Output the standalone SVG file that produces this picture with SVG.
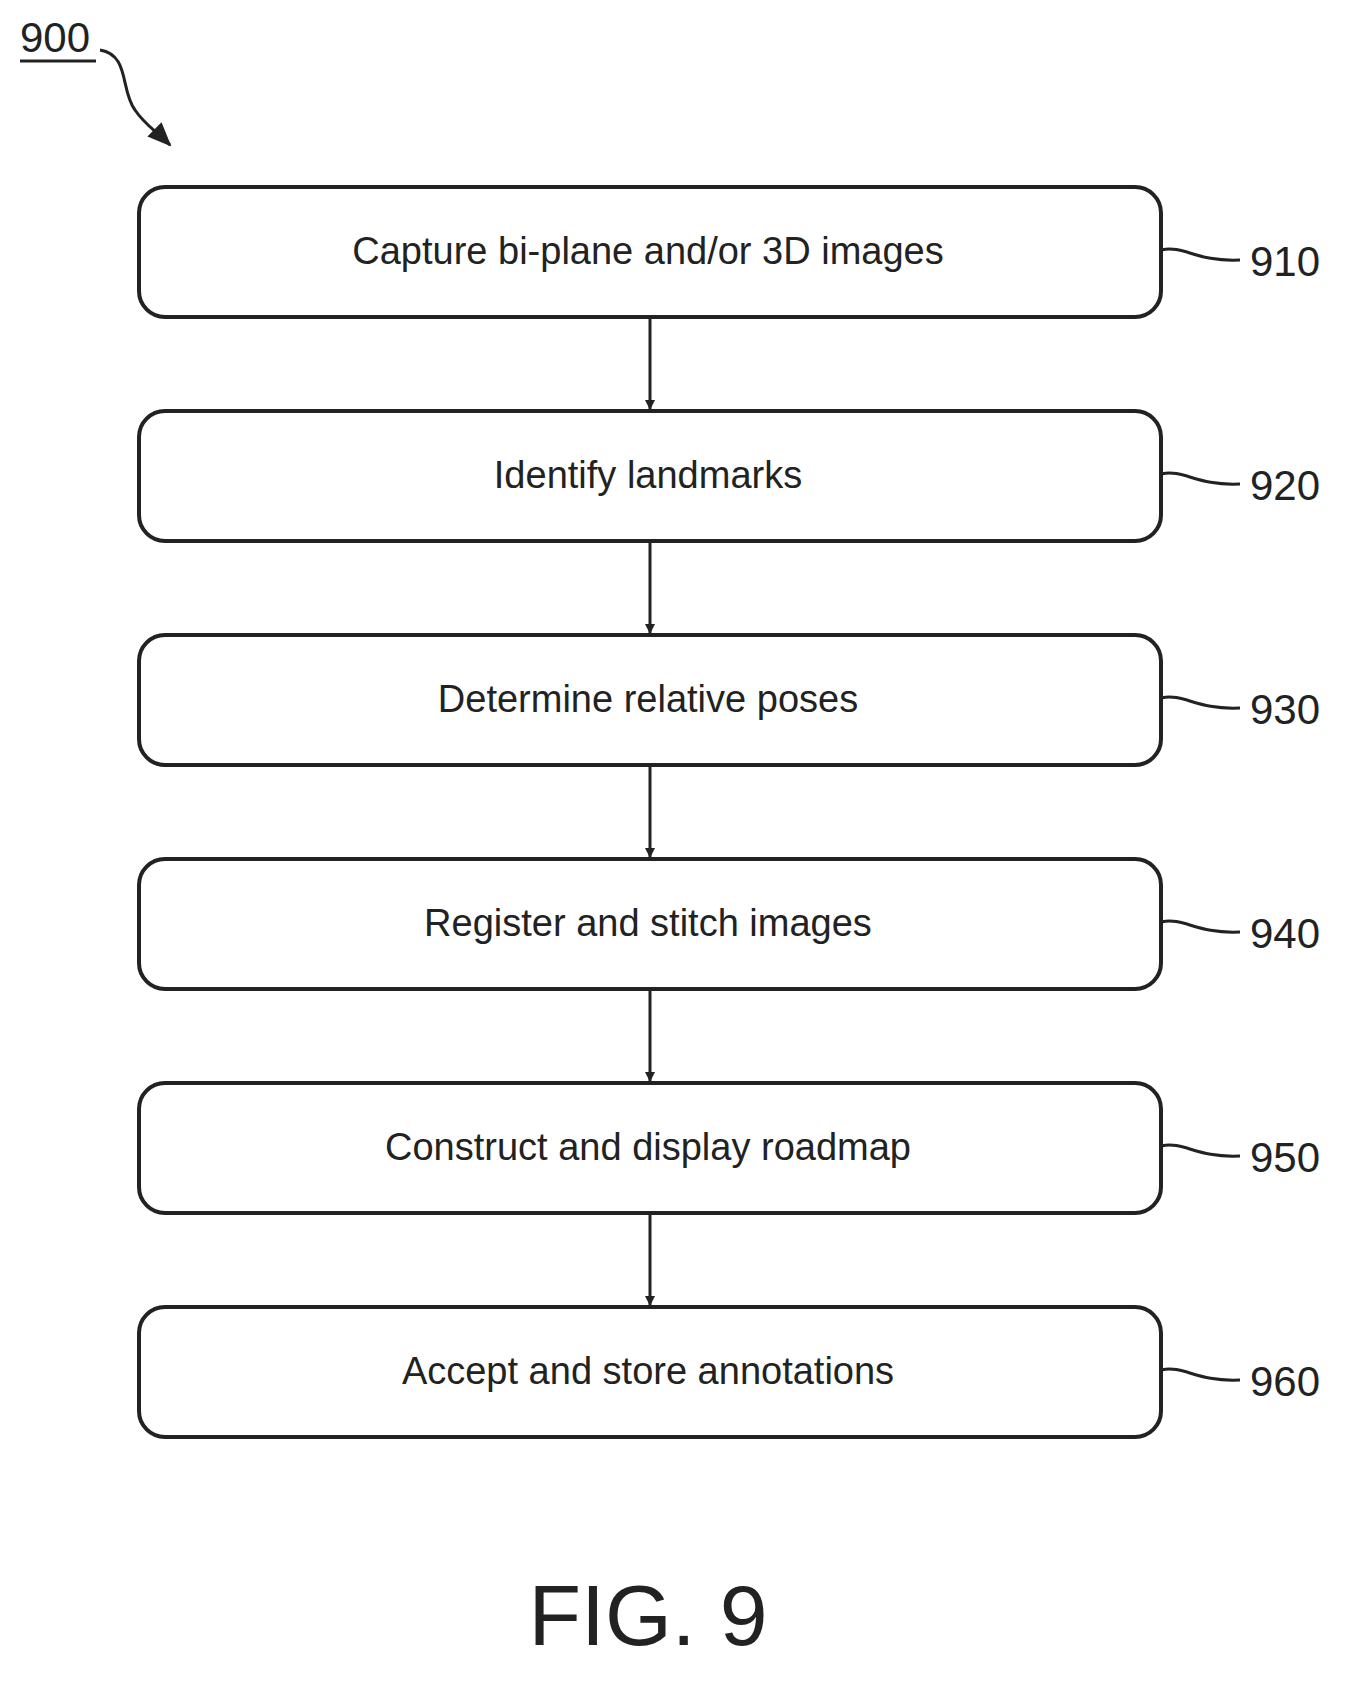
<svg xmlns="http://www.w3.org/2000/svg" width="1356" height="1683" viewBox="0 0 1356 1683">
<style>
.box{fill:#fff;stroke:#222;stroke-width:4}
.t{font-family:"Liberation Sans",Arial,sans-serif;font-size:38px;fill:#222;text-anchor:middle}
.n{font-family:"Liberation Sans",Arial,sans-serif;font-size:42px;fill:#222}
.c{stroke:#222;stroke-width:3;fill:none}
</style>
<defs><marker id="a" markerWidth="10" markerHeight="10" refX="9" refY="5" orient="auto" markerUnits="userSpaceOnUse" viewBox="0 0 10 10"><path d="M0,0 L10,5 L0,10 z" fill="#222"/></marker>
<marker id="b" markerWidth="24" markerHeight="20" refX="22" refY="10" orient="auto" markerUnits="userSpaceOnUse"><path d="M0,0 L24,10 L0,20 z" fill="#222"/></marker></defs>
<g id="label900"><text class="n" x="20" y="52">900</text><line x1="20" y1="61" x2="96" y2="61" class="c"/>
<path class="c" d="M100,50 C130,55 120,90 135,110 C145,125 155,130 170,145" marker-end="url(#b)"/></g>
<g id="n910"><rect class="box" x="139" y="187" width="1022" height="130" rx="26"/><text class="t" x="648" y="264">Capture bi-plane and/or 3D images</text><path class="c" d="M1161,250 C1185,245 1195,262 1240,260"/><text class="n" x="1250" y="276">910</text></g>
<g id="n920"><rect class="box" x="139" y="411" width="1022" height="130" rx="26"/><text class="t" x="648" y="488">Identify landmarks</text><path class="c" d="M1161,474 C1185,469 1195,486 1240,484"/><text class="n" x="1250" y="500">920</text></g>
<g id="n930"><rect class="box" x="139" y="635" width="1022" height="130" rx="26"/><text class="t" x="648" y="712">Determine relative poses</text><path class="c" d="M1161,698 C1185,693 1195,710 1240,708"/><text class="n" x="1250" y="724">930</text></g>
<g id="n940"><rect class="box" x="139" y="859" width="1022" height="130" rx="26"/><text class="t" x="648" y="936">Register and stitch images</text><path class="c" d="M1161,922 C1185,917 1195,934 1240,932"/><text class="n" x="1250" y="948">940</text></g>
<g id="n950"><rect class="box" x="139" y="1083" width="1022" height="130" rx="26"/><text class="t" x="648" y="1160">Construct and display roadmap</text><path class="c" d="M1161,1146 C1185,1141 1195,1158 1240,1156"/><text class="n" x="1250" y="1172">950</text></g>
<g id="n960"><rect class="box" x="139" y="1307" width="1022" height="130" rx="26"/><text class="t" x="648" y="1384">Accept and store annotations</text><path class="c" d="M1161,1370 C1185,1365 1195,1382 1240,1380"/><text class="n" x="1250" y="1396">960</text></g>
<g id="connectors">
<line class="c" x1="650" y1="319" x2="650" y2="409" marker-end="url(#a)"/>
<line class="c" x1="650" y1="543" x2="650" y2="633" marker-end="url(#a)"/>
<line class="c" x1="650" y1="767" x2="650" y2="857" marker-end="url(#a)"/>
<line class="c" x1="650" y1="991" x2="650" y2="1081" marker-end="url(#a)"/>
<line class="c" x1="650" y1="1215" x2="650" y2="1305" marker-end="url(#a)"/>
</g>
<text x="648" y="1645" style="font-family:'Liberation Sans',Arial,sans-serif;font-size:86px;fill:#222;text-anchor:middle">FIG. 9</text>
</svg>
